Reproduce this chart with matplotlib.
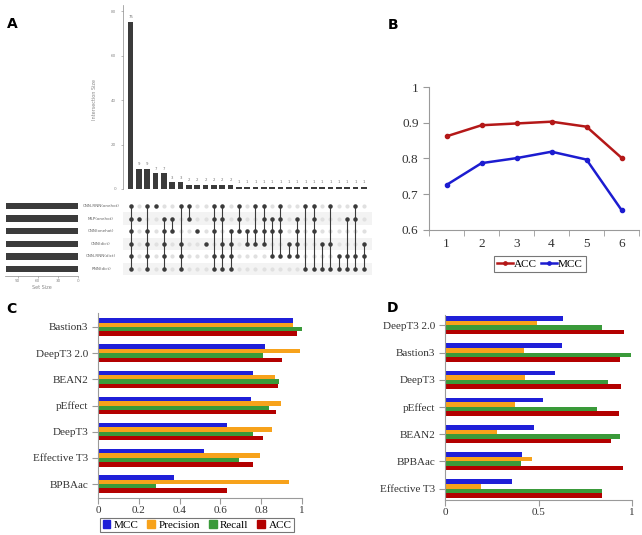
import numpy as np
import matplotlib
matplotlib.use("Agg")
import matplotlib.pyplot as plt
from matplotlib.patches import Patch

W, H = 642, 535

# ---- panel A: upset data ----
set_names = ['CNN-RNN(onehot)', 'MLP(onehot)', 'CNN(onehot)',
             'CNN(dict)', 'CNN-RNN(dict)', 'RNN(dict)']
inter_sizes = [75, 9, 9, 7, 7, 3, 3, 2, 2, 2, 2, 2, 2,
               1, 1, 1, 1, 1, 1, 1, 1, 1, 1, 1, 1, 1, 1, 1, 1]
inter_members = [
    [0, 1, 2, 3, 4, 5], [1], [0, 2, 3, 4, 5], [0], [1, 2, 3, 4, 5], [1, 2],
    [0, 3, 4, 5], [0, 1], [2], [3], [0, 1, 2, 4, 5], [0, 1, 3, 4, 5],
    [2, 3, 4, 5], [0, 1, 2], [2, 3], [0, 2, 3], [0, 1, 2, 3], [1, 2, 4],
    [0, 1, 2, 4], [3, 4], [1, 2, 3, 4], [0, 5], [0, 1, 2, 5], [3, 5],
    [0, 3, 5], [4, 5], [1, 4, 5], [0, 1, 4, 5], [3, 4, 5],
]

# ---- panel B ----
b_x = [1, 2, 3, 4, 5, 6]
b_acc = [0.862, 0.893, 0.898, 0.903, 0.889, 0.802]
b_mcc = [0.726, 0.787, 0.801, 0.819, 0.797, 0.656]

# ---- panel C ----
c_tools = ['Bastion3', 'DeepT3 2.0', 'BEAN2', 'pEffect', 'DeepT3', 'Effective T3', 'BPBAac']
c_mcc = [0.954, 0.82, 0.762, 0.75, 0.633, 0.521, 0.372]
c_prec = [0.954, 0.988, 0.87, 0.898, 0.854, 0.795, 0.938]
c_rec = [1.0, 0.81, 0.887, 0.839, 0.759, 0.69, 0.284]
c_acc = [0.975, 0.90, 0.88, 0.874, 0.81, 0.759, 0.634]

# ---- panel D ----
d_tools = ['DeepT3 2.0', 'Bastion3', 'DeepT3', 'pEffect', 'BEAN2', 'BPBAac', 'Effective T3']
d_mcc = [0.63, 0.623, 0.589, 0.524, 0.476, 0.41, 0.358]
d_prec = [0.49, 0.424, 0.43, 0.376, 0.277, 0.463, 0.195]
d_rec = [0.84, 0.996, 0.871, 0.812, 0.934, 0.406, 0.841]
d_acc = [0.955, 0.937, 0.941, 0.932, 0.889, 0.952, 0.841]

metric_names = ['MCC', 'Precision', 'Recall', 'ACC']
metric_colors = ['#1f1fd8', '#f7a21b', '#3a9a3a', '#b30000']
SERIF = 'Liberation Serif'
GRAY = '#9a9a9a'
DARK = '#3b3b3b'


def px_axes(fig, left, top, right, bottom):
    return fig.add_axes([left / W, 1 - bottom / H, (right - left) / W, (bottom - top) / H])


def fx(x):
    return x / W


def fy(y):
    return 1 - y / H


fig = plt.figure(figsize=(W / 100, H / 100), dpi=100)

# ================= A =================
n = len(inter_sizes)
axb = px_axes(fig, 123, 5, 372, 189)
axb.bar(range(n), inter_sizes, width=0.68, color=DARK)
for i, v in enumerate(inter_sizes):
    axb.text(i, v + 1.2, str(v), ha='center', va='bottom', fontsize=2.8, color='#777777')
axb.set_xlim(-0.92, n)
axb.set_ylim(0, 82.7)
axb.set_yticks([0, 20, 40, 60, 80])
axb.tick_params(axis='y', labelsize=3, colors='#888888', length=1.5, width=0.4)
axb.set_xticks([])
for s in ['top', 'right', 'bottom']:
    axb.spines[s].set_visible(False)
axb.spines['left'].set_color('#888888')
axb.spines['left'].set_linewidth(0.5)
axb.axhline(0, color='#888888', lw=0.5)
fig.text(fx(95), fy(100), 'Intersection Size', rotation=90, ha='center', va='center',
         fontsize=3.5, color='#888888')

axm = px_axes(fig, 123, 199, 372, 276)
axm.set_xlim(-0.92, n)
axm.set_ylim(5.55, -0.55)
for r in range(len(set_names)):
    if r % 2 == 1:
        axm.axhspan(r - 0.5, r + 0.5, color='#f3f3f3', lw=0)
    axm.plot(range(n), [r] * n, 'o', ms=2, color='#e0e0e0', ls='none')
for i, mem in enumerate(inter_members):
    if len(mem) > 1:
        axm.plot([i, i], [min(mem), max(mem)], color=DARK, lw=0.8)
    axm.plot([i] * len(mem), mem, 'o', ms=2.2, color=DARK, ls='none')
axm.axis('off')

set_sizes = [sum(s for s, m in zip(inter_sizes, inter_members) if r in m)
             for r in range(len(set_names))]
axs = px_axes(fig, 5, 199, 78, 276)
axs.barh(range(len(set_names)), set_sizes, height=0.5, color=DARK)
axs.set_ylim(5.55, -0.55)
axs.set_xlim(109, 0)
axs.set_xticks([90, 60, 30, 0])
axs.tick_params(axis='x', labelsize=3, colors='#888888', length=1.5, width=0.4, pad=1)
axs.set_yticks([])
for s in ['top', 'right', 'left']:
    axs.spines[s].set_visible(False)
axs.spines['bottom'].set_color('#888888')
axs.spines['bottom'].set_linewidth(0.5)
axs.set_xlabel('Set Size', fontsize=3.5, color='#888888', labelpad=1)
for r, name in enumerate(set_names):
    fig.text(fx(101), fy(206 + r * 12.6), name, ha='center', va='center',
             fontsize=3, color='#666666')

# ================= B =================
axB = px_axes(fig, 429, 87, 639, 230)
axB.plot(b_x, b_acc, '-o', color='#b41818', lw=1.8, ms=3, label='ACC')
axB.plot(b_x, b_mcc, '-o', color='#1c1cd0', lw=1.8, ms=3, label='MCC')
axB.set_xlim(0.5, 6.5)
axB.set_ylim(0.6, 1.0)
axB.set_yticks([0.6, 0.7, 0.8, 0.9, 1.0])
axB.set_yticklabels(['0.6', '0.7', '0.8', '0.9', '1'])
axB.set_xticks(b_x)
axB.set_xticks(np.arange(0.5, 7, 1), minor=True)
axB.tick_params(axis='x', which='major', length=0, pad=6)
axB.tick_params(axis='x', which='minor', length=4, color=GRAY)
axB.tick_params(axis='y', length=4, color=GRAY)
axB.tick_params(labelsize=9.5, labelcolor='#333333')
for lab in axB.get_xticklabels() + axB.get_yticklabels():
    lab.set_family(SERIF)
for s in ['top', 'right']:
    axB.spines[s].set_visible(False)
for s in ['left', 'bottom']:
    axB.spines[s].set_color(GRAY)
legB = axB.legend(loc='center', bbox_to_anchor=(fx(540), fy(264)), bbox_transform=fig.transFigure,
                  ncol=2, frameon=True, fancybox=False, prop={'family': SERIF, 'size': 8},
                  handlelength=1.4, handletextpad=0.1, columnspacing=0.4, borderpad=0.3,
                  markerscale=0.8)
legB.get_frame().set_edgecolor('#555555')
legB.get_frame().set_linewidth(0.8)


# ================= C & D =================
def grouped_barh(ax, tools, series, top_pad, bot_pad):
    y = np.arange(len(tools))
    h = 0.167
    offs = [-1.5 * h, -0.5 * h, 0.5 * h, 1.5 * h]
    for vals, c, o in zip(series, metric_colors, offs):
        ax.barh(y + o, vals, height=h, color=c)
    ax.set_ylim(len(tools) - 1 + bot_pad, -top_pad)
    ax.set_xlim(0, 1)
    ax.set_yticks(y)
    ax.set_yticklabels(tools)
    ax.tick_params(axis='y', length=4, color=GRAY, labelsize=8, labelcolor='#333333', pad=3)
    ax.tick_params(axis='x', length=4, color=GRAY, labelsize=8, labelcolor='#333333', pad=2)
    for lab in ax.get_xticklabels() + ax.get_yticklabels():
        lab.set_family(SERIF)
    for s in ['top', 'right']:
        ax.spines[s].set_visible(False)
    for s in ['left', 'bottom']:
        ax.spines[s].set_color(GRAY)


axC = px_axes(fig, 98, 313, 302, 498)
grouped_barh(axC, c_tools, [c_mcc, c_prec, c_rec, c_acc], 0.535, 0.535)
axC.set_xticks([0, 0.2, 0.4, 0.6, 0.8, 1.0])
axC.set_xticklabels(['0', '0.2', '0.4', '0.6', '0.8', '1'], family=SERIF)
handles = [Patch(color=c) for c in metric_colors]
legC = axC.legend(handles, metric_names, loc='center', bbox_to_anchor=(fx(197), fy(525)),
                  bbox_transform=fig.transFigure, ncol=4, frameon=True, fancybox=False,
                  prop={'family': SERIF, 'size': 8}, handlelength=0.7, handleheight=0.7,
                  handletextpad=0.3, columnspacing=0.8, borderpad=0.2)
legC.get_frame().set_edgecolor('#555555')
legC.get_frame().set_linewidth(0.8)

axD = px_axes(fig, 445, 315, 632, 500)
grouped_barh(axD, d_tools, [d_mcc, d_prec, d_rec, d_acc], 0.38, 0.42)
axD.set_xticks([0, 0.5, 1.0])
axD.set_xticklabels(['0', '0.5', '1'], family=SERIF)

# panel letters
for letter, x, y in [('A', 12, 24), ('B', 393, 25), ('C', 11, 309), ('D', 392, 308)]:
    fig.text(fx(x), fy(y), letter, fontsize=10, fontweight='bold', ha='center', va='center')

fig.savefig('out.png', dpi=100)
